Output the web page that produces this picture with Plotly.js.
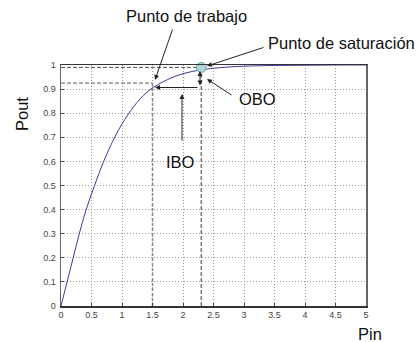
<!DOCTYPE html>
<html>
<head>
<meta charset="utf-8">
<script src="https://cdn.plot.ly/plotly-3.0.1.min.js"></script>
<style>
html,body{margin:0;padding:0;background:#fff;}
#chart{width:418px;height:342px;}
</style>
</head>
<body>
<div id="chart"></div>
<script>
// Transfer curve
const pin  = [0, 0.1, 0.2, 0.3, 0.4, 0.55, 0.7, 0.9, 1.1, 1.3, 1.5, 1.75, 2.0, 2.3, 2.6, 3.0, 3.5, 4.0, 4.5, 5.0];
const pout = [0, 0.1, 0.2, 0.3, 0.39, 0.5, 0.6, 0.71, 0.795, 0.86, 0.905, 0.94, 0.964, 0.98, 0.989, 0.995, 0.998, 0.999, 1.0, 1.0];

// Key points
const workPin = [1.5];
const workPout = [0.91];
const workLevel = [0.925];
const satPin = [2.3];
const satPout = [0.99];

// Axis ticks
const xTicks = [0, 0.5, 1, 1.5, 2, 2.5, 3, 3.5, 4, 4.5, 5];
const xTickText = ['0', '0.5', '1', '1.5', '2', '2.5', '3', '3.5', '4', '4.5', '5'];
const yTicks = [0, 0.1, 0.2, 0.3, 0.4, 0.5, 0.6, 0.7, 0.8, 0.9, 1];
const yTickText = ['0', '0.1', '0.2', '0.3', '0.4', '0.5', '0.6', '0.7', '0.8', '0.9', '1'];

const W = 418, H = 342;
const M = {l: 61, r: 52, t: 65, b: 36};
const PW = W - M.l - M.r, PH = H - M.t - M.b;
const px = x => (x - M.l) / PW;
const py = y => (H - M.b - y) / PH;

const dashStyle = {color: '#555', width: 1, dash: '4px,2px'};

const traces = [
  {x: [0, workPin[0]], y: [workLevel[0], workLevel[0]], mode: 'lines', line: dashStyle, hoverinfo: 'skip'},
  {x: [workPin[0], workPin[0]], y: [0, workLevel[0]], mode: 'lines', line: {color: '#888', width: 1.5, dash: '3px,2px'}, hoverinfo: 'skip'},
  {x: [0, satPin[0]], y: [satPout[0], satPout[0]], mode: 'lines', line: dashStyle, hoverinfo: 'skip'},
  {x: [satPin[0], satPin[0]], y: [0, satPout[0]], mode: 'lines', line: {color: '#777', width: 1.5, dash: '4px,2px'}, hoverinfo: 'skip'},
  {x: pin, y: pout, mode: 'lines', line: {color: '#3b3b9c', width: 1, shape: 'spline'}, hoverinfo: 'skip'},
  {x: satPin, y: satPout, mode: 'markers', cliponaxis: false, marker: {size: 10, color: '#a9d9d6', line: {color: '#7a9e9c', width: 1}}, hoverinfo: 'skip'}
];

const arrowBase = {xref: 'paper', yref: 'paper', text: '', showarrow: true, arrowhead: 2, arrowsize: 1, arrowwidth: 1, arrowcolor: '#222'};
const textBase = {xref: 'paper', yref: 'paper', showarrow: false, font: {family: 'Liberation Sans, Arial, sans-serif', size: 16.5, color: '#111'}, xanchor: 'center', yanchor: 'middle'};

const annotations = [
  Object.assign({}, textBase, {text: 'Punto de trabajo', x: px(186), y: py(16)}),
  Object.assign({}, textBase, {text: 'Punto de saturación', x: px(341), y: py(43)}),
  Object.assign({}, textBase, {text: 'OBO', x: px(257), y: py(99)}),
  Object.assign({}, textBase, {text: 'IBO', x: px(180), y: py(162)}),
  Object.assign({}, textBase, {text: 'Pin', x: px(370), y: py(334)}),
  Object.assign({}, textBase, {text: 'Pout', x: px(22), y: py(114), textangle: -90}),
  Object.assign({}, arrowBase, {x: px(155), y: py(80), ax: 18, ay: -52}),
  Object.assign({}, arrowBase, {x: px(207), y: py(66), ax: 58, ay: -19}),
  Object.assign({}, arrowBase, {x: px(207), y: py(79), ax: 26, ay: 17}),
  Object.assign({}, arrowBase, {x: px(182), y: py(94), ax: 0, ay: 48}),
  Object.assign({}, arrowBase, {x: px(155), y: py(87.5), ax: 44, ay: 0}),
  Object.assign({}, arrowBase, {x: px(200), y: py(71), ax: 0, ay: 16, arrowside: 'end+start'})
];

const axisCommon = {
  showgrid: true, gridcolor: '#9a9a9a', griddash: '1px,2px', gridwidth: 1,
  zeroline: false, showline: true, mirror: true,
  ticks: 'inside', ticklen: 3, tickcolor: '#444',
  tickfont: {family: 'Liberation Sans, Arial, sans-serif', size: 9, color: '#444'},
  fixedrange: true
};

const layout = {
  width: W, height: H,
  margin: {l: M.l, r: M.r, t: M.t, b: M.b, pad: 0},
  paper_bgcolor: '#fff', plot_bgcolor: '#fff',
  showlegend: false,
  xaxis: Object.assign({}, axisCommon, {range: [0, 5], tickvals: xTicks, ticktext: xTickText, linecolor: '#333', linewidth: 1.5}),
  yaxis: Object.assign({}, axisCommon, {range: [0, 1], tickvals: yTicks, ticktext: yTickText, linecolor: '#666', linewidth: 1.5, ticklabelstandoff: 2}),
  annotations: annotations
};

Plotly.newPlot('chart', traces, layout, {displayModeBar: false, staticPlot: true});
</script>
</body>
</html>
